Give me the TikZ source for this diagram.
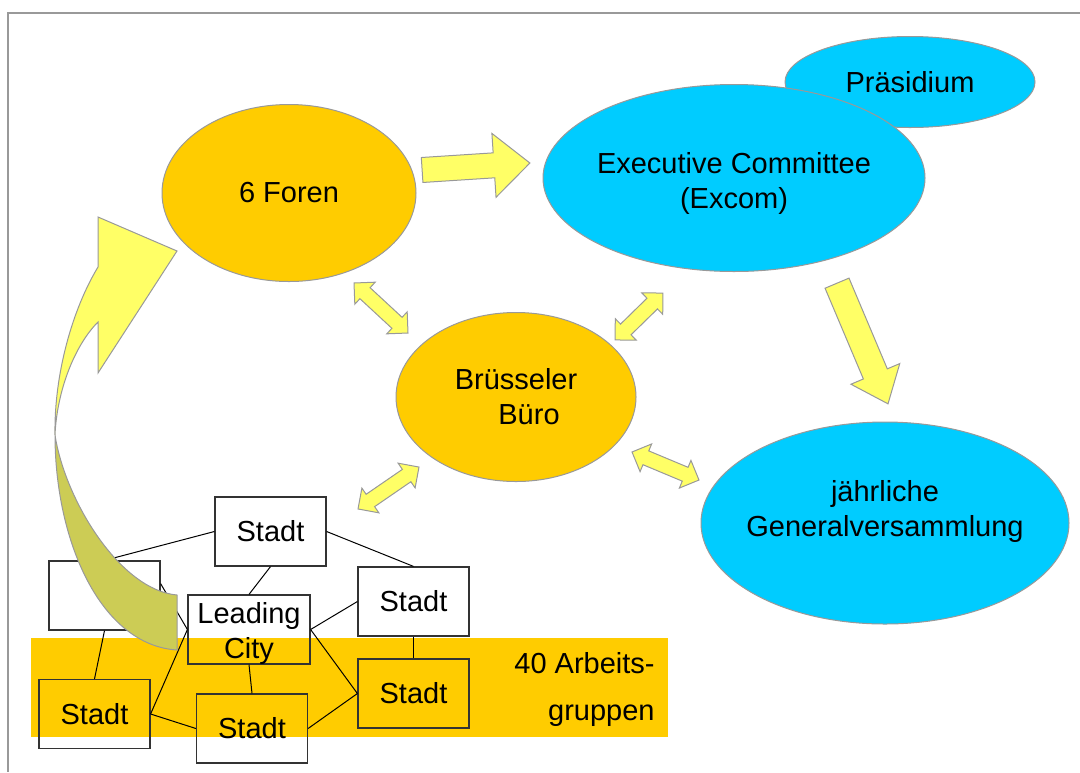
\documentclass[tikz,border=0pt]{standalone}
\usepackage{fontspec}
\setmainfont{Liberation Sans}
\usetikzlibrary{shapes.geometric}
\definecolor{gold}{HTML}{FFCC00}
\definecolor{sky}{HTML}{00CCFF}
\definecolor{lemon}{HTML}{FFFF66}
\definecolor{olivearrow}{HTML}{CCCC55}
\definecolor{rim}{HTML}{999999}
\tikzset{
  arrowfill/.style={fill=lemon, draw=rim, line width=0.5pt, line join=miter},
  % length, head width, shaft width, head length
  pics/oneway/.style n args={4}{code={
    \filldraw[arrowfill] (-#1/2,-#3/2) -- (#1/2-#4,-#3/2) -- (#1/2-#4,-#2/2) -- (#1/2,0)
      -- (#1/2-#4,#2/2) -- (#1/2-#4,#3/2) -- (-#1/2,#3/2) -- cycle;}},
  pics/twoway/.style n args={4}{code={
    \filldraw[arrowfill] (-#1/2,0) -- (-#1/2+#4,-#2/2) -- (-#1/2+#4,-#3/2) -- (#1/2-#4,-#3/2)
      -- (#1/2-#4,-#2/2) -- (#1/2,0) -- (#1/2-#4,#2/2) -- (#1/2-#4,#3/2)
      -- (-#1/2+#4,#3/2) -- (-#1/2+#4,#2/2) -- cycle;}}
}
\begin{document}
\begin{tikzpicture}[x=0.5pt, y=-0.5pt, font=\fontsize{14.5}{17.5}\selectfont,
  ell/.style={ellipse, draw=rim, line width=0.5pt, inner sep=0pt, align=center},
  city/.style={rectangle, draw=black!80, line width=0.6pt, minimum width=55.5pt,
    minimum height=34.5pt, inner sep=0pt, align=center},
  link/.style={line width=0.5pt}]
\useasboundingbox (0,0) rectangle (1080,772);

% frame
\draw[rim, line width=1pt] (1080,12.5) -- (7.5,12.5) -- (7.5,772);

% working groups band
\fill[gold] (31,638) rectangle (668,737);
\node[align=right, anchor=north east, inner sep=0pt] (band) at (655,652) {40 Arbeits-\\[6pt]gruppen};

% cities
\node[city] (s1) at (270.5,531.5) {Stadt};
\node[city] (s0) at (104.5,595.5) {};
\node[city, minimum width=61pt, label={[align=center, yshift=-2pt]center:Leading\\City}] (lc) at (249,629.5) {};
\node[city] (s2) at (413.5,601.5) {Stadt};
\node[city] (s3) at (413.5,693.5) {Stadt};
\node[city] (s4) at (94.5,714) {Stadt};
\node[city] (s5) at (252,728.5) {Stadt};

\draw[link] (s1.west) -- (s0.north);
\draw[link] (s1.east) -- (s2.north);
\draw[link] (s1.south) -- (lc.north);
\draw[link] (s0.12) -- (lc.west);
\draw[link] (s0.south) -- (s4.north);
\draw[link] (lc.west) -- (s4.east);
\draw[link] (lc.south) -- (s5.north);
\draw[link] (lc.east) -- (s2.west);
\draw[link] (lc.east) -- (s3.west);
\draw[link] (s4.east) -- (s5.west);
\draw[link] (s5.east) -- (s3.west);
\draw[link] (s2.south) -- (s3.north);

% curved arrow up to the forums
\filldraw[fill=lemon, draw=rim, line width=0.5pt] (98,267) -- (98,217) -- (177,251)
  -- (98,373) -- (98,322) .. controls (75,345) and (57,390) .. (55,435)
  .. controls (54,375) and (72,310) .. (98,267) -- cycle;
\filldraw[fill=olivearrow, draw=rim, line width=0.5pt] (55,435)
  .. controls (55,540) and (100,645) .. (177,650) -- (177,595)
  .. controls (120,590) and (65,500) .. (55,435) -- cycle;

% bodies
\node[ell, fill=sky, minimum width=125pt, minimum height=45.5pt] (praes) at (910,82) {Präsidium};
\node[ell, fill=sky, minimum width=191pt, minimum height=93.5pt,
  label={[align=center, yshift=-2.5pt]center:Executive Committee\\(Excom)}] (excom) at (734,178) {};
\node[ell, fill=gold, minimum width=127pt, minimum height=88.5pt] (foren) at (289,193) {6 Foren};
\node[ell, fill=gold, minimum width=120pt, minimum height=84.5pt] (buero) at (516,397) {Brüsseler\\\hspace*{13pt}Büro};
\node[ell, fill=sky, minimum width=184pt, minimum height=101pt,
  label={[align=center, yshift=6pt]center:jährliche\\Generalversammlung}] (gv) at (885,523) {};

% block arrows
\pic[rotate=3.7] (a1) at (476,166.5) {oneway={108}{64}{25}{36}};
\pic[rotate=-67.1] (a2) at (862.5,343.5) {oneway={131}{53}{26}{32.5}};
\pic[rotate=-42.8] (d1) at (381,308) {twoway={73.6}{30}{15}{15}};
\pic[rotate=44.4] (d2) at (639,316.5) {twoway={67}{30}{15}{15}};
\pic[rotate=-22.7] (d3) at (665.5,466) {twoway={72.6}{30}{15}{15}};
\pic[rotate=34.5] (d4) at (388.5,488) {twoway={74}{30}{15}{15}};
\end{tikzpicture}
\end{document}
